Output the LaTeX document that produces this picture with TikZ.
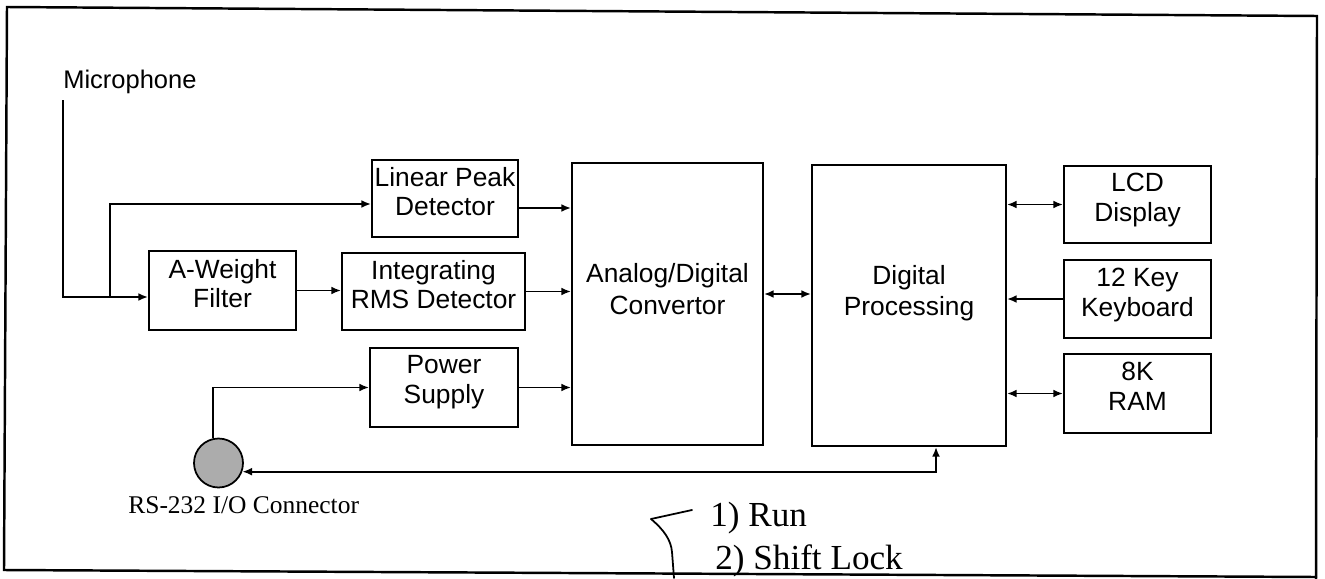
\documentclass[tikz,border=0pt]{standalone}
\usepackage{fontspec}
\setmainfont{Liberation Sans}
\newfontfamily\handfont{Liberation Serif}
\newfontfamily\labserif{Liberation Serif}
\usetikzlibrary{arrows.meta,calc}
\newcommand\mylift[1]{\rule[-#1]{0pt}{#1}}
\begin{document}
\begin{tikzpicture}[x=0.02cm,y=-0.02cm,
  blk/.style={draw, line width=1.1pt, inner sep=0pt, align=center,
    font=\fontsize{15}{17}\selectfont},
  big/.style={blk, font=\fontsize{15}{18}\selectfont},
  arr/.style={line width=1.1pt, -{Latex[length=5.5pt,width=4.5pt]}},
  darr/.style={line width=1.1pt, {Latex[length=5.5pt,width=4.5pt]}-{Latex[length=5.5pt,width=4.5pt]}},
  frame/.style={line width=1.4pt},
  hand/.style={font=\fontsize{20}{22}\selectfont\handfont, inner sep=0pt}]
\useasboundingbox (0,0) rectangle (1325,578);

% outer frame
\draw[frame] (1316,580) -- (1317,16) -- (7,7) -- (4,570) -- (1316,577);

% blocks
\node[blk, minimum width=2.92cm, minimum height=1.54cm] (lpd) at (445,198.5) {Linear Peak\\Detector\mylift{8pt}};
\node[blk, minimum width=2.94cm, minimum height=1.58cm] (aw) at (222.5,290.5) {A-Weight\\Filter\mylift{8pt}};
\node[blk, minimum width=3.66cm, minimum height=1.54cm] (irms) at (433.5,291.5) {Integrating\\RMS Detector\mylift{8pt}};
\node[blk, minimum width=2.96cm, minimum height=1.58cm] (pwr) at (444,387.5) {Power\\Supply\mylift{9pt}};
\node[big, minimum width=3.82cm, minimum height=5.64cm] (adc) at (667.5,304) {Analog/Digital\\Convertor\mylift{17pt}};
\node[big, minimum width=3.88cm, minimum height=5.62cm] (dp) at (909,305.5) {Digital\\Processing\mylift{17pt}};
\node[blk, minimum width=2.94cm, minimum height=1.54cm] (lcd) at (1137.5,204.5) {LCD\\Display\mylift{8pt}};
\node[blk, minimum width=2.94cm, minimum height=1.56cm] (kb) at (1137.5,299) {12 Key\\Keyboard\mylift{8pt}};
\node[blk, minimum width=2.94cm, minimum height=1.58cm] (ram) at (1137.5,393.5) {8K\\RAM\mylift{8pt}};

% connector
\node[circle, draw, line width=1pt, fill=gray!65, minimum size=0.98cm, inner sep=0pt] (conn) at (218.5,463) {};
\node[anchor=base west, inner sep=0pt, font=\fontsize{14.5}{16}\selectfont\labserif] (connl) at (128,513) {RS-232 I/O Connector};

% microphone
\node[anchor=base west, inner sep=0pt, font=\fontsize{14.5}{16}\selectfont] (micl) at (63,88) {Microphone};
\coordinate (m0) at (63,100);
\coordinate (mc) at (63,297);
\coordinate (j) at (110,297);
\coordinate (yL) at (0,204);
\coordinate (yLA) at (0,208);
\coordinate (yAD) at (0,294);
\coordinate (xb) at (936,0);

\draw[arr] (m0) -- (mc) -- (aw.west |- mc);
\draw[arr] (j) |- (lpd.west |- yL);
\draw[arr] (aw.east) -- (aw.east -| irms.west);
\draw[arr] (lpd.east |- yLA) -- (adc.west |- yLA);
\draw[arr] (irms.east) -- (irms.east -| adc.west);
\draw[arr] (pwr.east) -- (pwr.east -| adc.west);
\draw[darr] (adc.east |- yAD) -- (dp.west |- yAD);
\draw[darr] (lcd.west -| dp.east) -- (lcd.west);
\draw[arr] (kb.west) -- (kb.west -| dp.east);
\draw[darr] (ram.west -| dp.east) -- (ram.west);
\draw[arr] (conn.102) |- (pwr.west);
\draw[darr] (dp.south -| xb) |- (conn.-20);

% handwritten note
\node[hand, anchor=base west] (h1) at (710,526) {1) Run};
\node[hand, anchor=base west] (h2) at (715,569) {2) Shift Lock};
\coordinate (b0) at (651,519);
\coordinate (b1) at (692,510);
\coordinate (b2) at (674,578);
\draw[line width=1pt, line cap=round] (b0) -- (b1);
\draw[line width=1pt, line cap=round] (b0) .. controls (664,530) and (671,540) .. (672,552) -- (b2);
\end{tikzpicture}
\end{document}
